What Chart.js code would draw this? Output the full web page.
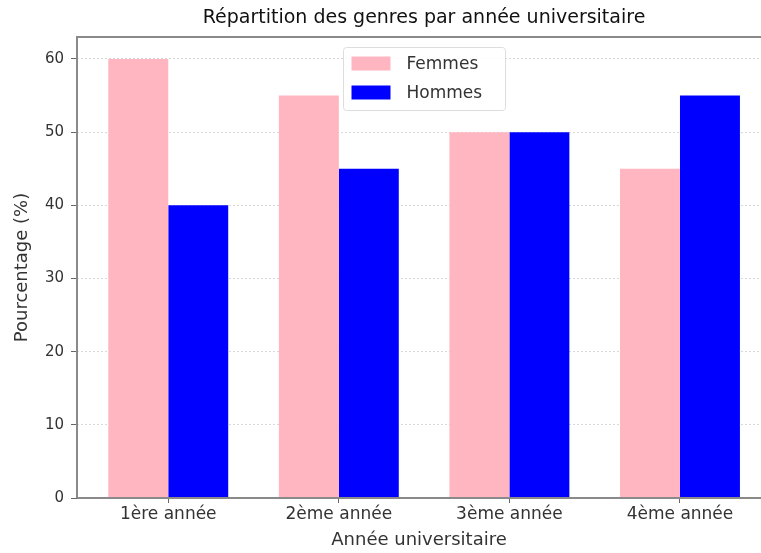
<!DOCTYPE html>
<html>
<head>
<meta charset="utf-8">
<script src="https://cdn.jsdelivr.net/npm/chart.js@4"></script>
<style>
  html, body { margin: 0; padding: 0; background: #fff; }
  #wrap { width: 761px; height: 553px; }
</style>
</head>
<body>
<div id="wrap"><canvas id="chart" width="761" height="553"></canvas></div>
<script>
// data
const categories = ["1ère année", "2ème année", "3ème année", "4ème année"];
const femmes = [60, 55, 50, 45];
const hommes = [40, 45, 50, 55];
const yTicks = [0, 10, 20, 30, 40, 50, 60];

const FONT = "'DejaVu Sans', sans-serif";
const TEXT = "#333";

// title, frame and legend box drawn by hand
const extras = {
  id: "extras",
  afterDraw(chart) {
    const ctx = chart.ctx;
    const a = chart.chartArea;
    ctx.save();
    // frame (right side falls off the picture)
    ctx.strokeStyle = "#8a8a8a";
    ctx.lineWidth = 2;
    ctx.beginPath();
    ctx.moveTo(a.left, a.bottom);
    ctx.lineTo(a.left, a.top);
    ctx.lineTo(a.right + 2, a.top);
    ctx.moveTo(a.left, a.bottom);
    ctx.lineTo(a.right + 2, a.bottom);
    ctx.stroke();
    // title
    ctx.fillStyle = "#111";
    ctx.font = "19px " + FONT;
    ctx.textAlign = "center";
    ctx.textBaseline = "middle";
    ctx.fillText("Répartition des genres par année universitaire", 424, 18);
    // legend
    const bx = 343.5, by = 47.5, bw = 162, bh = 63;
    ctx.fillStyle = "rgba(255,255,255,0.85)";
    ctx.strokeStyle = "#ddd";
    ctx.lineWidth = 1;
    ctx.beginPath();
    ctx.roundRect(bx, by, bw, bh, 3);
    ctx.fill();
    ctx.stroke();
    ctx.font = "17px " + FONT;
    ctx.textAlign = "left";
    chart.data.datasets.forEach((ds, i) => {
      const y = by + 16 + i * 29;
      ctx.fillStyle = ds.backgroundColor;
      ctx.fillRect(bx + 8, y - 7, 39, 14);
      ctx.fillStyle = TEXT;
      ctx.fillText(ds.label, bx + 63, y + 1);
    });
    ctx.restore();
  }
};

new Chart(document.getElementById("chart"), {
  type: "bar",
  data: {
    datasets: [
      { label: "Femmes", data: femmes.map((v, i) => ({ x: i, y: v })), backgroundColor: "#FFB6C1" },
      { label: "Hommes", data: hommes.map((v, i) => ({ x: i, y: v })), backgroundColor: "#0000FF" }
    ]
  },
  options: {
    responsive: false,
    animation: false,
    layout: { padding: { top: 37, right: 0, left: 0, bottom: 0 } },
    plugins: {
      legend: { display: false },
      title: { display: false },
      tooltip: { enabled: false }
    },
    datasets: { bar: { categoryPercentage: 0.703, barPercentage: 1.0 } },
    scales: {
      x: {
        type: "linear",
        offset: false,
        min: -0.535,
        max: 3.475,
        afterFit(s) { s.height = 55; },
        afterBuildTicks(s) { s.ticks = categories.map((c, i) => ({ value: i })); },
        grid: { display: true, offset: false, drawOnChartArea: false, tickLength: 5, color: "#666" },
        border: { display: false },
        ticks: {
          color: TEXT, font: { family: FONT, size: 17 }, padding: 1, autoSkip: false, maxRotation: 0,
          callback: (v) => categories[v]
        },
        title: { display: true, text: "Année universitaire", color: TEXT, font: { family: FONT, size: 18 }, padding: { top: 0, bottom: 2 } }
      },
      y: {
        min: 0,
        max: 63,
        afterFit(s) { s.width = 77; },
        afterBuildTicks(s) { s.ticks = yTicks.map(v => ({ value: v })); },
        grid: { color: "#d8d8d8", tickColor: "#666", tickLength: 6 },
        border: { display: false, dash: [2, 2] },
        ticks: { color: TEXT, font: { family: FONT, size: 15 }, padding: 7 },
        title: { display: true, text: "Pourcentage (%)", color: TEXT, font: { family: FONT, size: 18 }, padding: { top: 12, bottom: 0 } }
      }
    }
  },
  plugins: [extras]
});
</script>
</body>
</html>
